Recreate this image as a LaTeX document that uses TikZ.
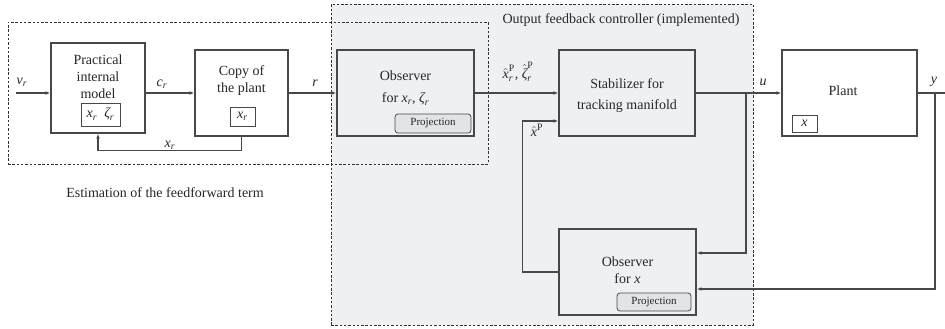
\documentclass[tikz,border=0pt]{standalone}
\usepackage{amsmath}
\usepackage{fontspec}
\setmainfont{Liberation Serif}
\usetikzlibrary{arrows.meta}
\definecolor{lc}{HTML}{484848}
\definecolor{regfill}{HTML}{EEF1F3}
\definecolor{projfill}{HTML}{E2E4E6}
\newcommand{\iv}[1]{\text{\itshape #1}}
\newcommand{\xr}{$\iv{x}_{\iv{r}}$}
\newcommand{\zr}{$\iv{ζ}_{\iv{r}}$}
\begin{document}
\begin{tikzpicture}[x=1pt,y=-1pt,
  every node/.style={font=\fontsize{14}{17}\selectfont, text=black!85},
  blk/.style={draw=lc, line width=1.1pt, inner sep=0pt},
  inbox/.style={draw=lc, line width=0.9pt, inner sep=0pt, fill=white},
  proj/.style={draw=lc, line width=0.8pt, rounded corners=3pt, fill=projfill, inner sep=0pt,
     font=\fontsize{11}{13}\selectfont},
  conn/.style={draw=lc, line width=1.1pt},
  arr/.style={conn, -{Latex[length=5pt,width=3.6pt]}},
  dsh/.style={draw=black!80, line width=0.8pt, dash pattern=on 2.5pt off 1.8pt},
  lbl/.style={inner sep=0pt}
]
\useasboundingbox (0,0) rectangle (945,329);
% regions
\node[dsh, fill=regfill, minimum width=422pt, minimum height=321pt, inner sep=0pt] (ofc) at (542,164.5) {};
\node[dsh, minimum width=480pt, minimum height=142pt, inner sep=0pt] (ffb) at (248,93) {};
\node[lbl] (ofclbl) at (621,20) {Output feedback controller (implemented)};
\node[lbl] (ffblbl) at (165,193) {Estimation of the feedforward term};

% blocks
\node[blk, fill=white, minimum width=94pt, minimum height=90pt] (pim) at (98,88) {};
\node[lbl, align=center] (pimtxt) at (98,77) {Practical\\internal\\model};
\node[inbox, minimum width=39pt, minimum height=23pt] (pimst) at (100.5,114.5) {\xr\ \ \zr};

\node[blk, fill=white, minimum width=93pt, minimum height=86pt] (copy) at (241.5,93) {};
\node[lbl, align=center] (copytxt) at (241.5,80.5) {Copy of\\the plant};
\node[inbox, minimum width=25pt, minimum height=19pt] (copyst) at (242.5,116.5) {\xr};

\node[blk, minimum width=137pt, minimum height=86pt] (obs) at (405.5,93) {};
\node[lbl, align=center] (obstxt) at (405.5,88) {Observer\\[5pt]for \xr, \zr};
\node[proj, minimum width=76pt, minimum height=19pt] (obsproj) at (433,123.5) {Projection};

\node[blk, minimum width=136pt, minimum height=86pt] (stab) at (627,93) {};
\node[lbl, align=center] (stabtxt) at (627,95.5) {Stabilizer for\\[4pt]tracking manifold};

\node[blk, minimum width=137pt, minimum height=86pt] (obsx) at (627.5,272) {};
\node[lbl, align=center] (obsxtxt) at (627.5,270.5) {Observer\\for \iv{x}};
\node[proj, minimum width=74pt, minimum height=18pt] (obsxproj) at (654,302) {Projection};

\node[blk, fill=white, minimum width=135pt, minimum height=86pt] (plant) at (849.5,93) {};
\node[lbl] (planttxt) at (843,91) {Plant};
\node[inbox, minimum width=25pt, minimum height=17pt] (plantst) at (804.5,123.5) {\iv{x}};

% connectors
\coordinate (vin) at (16,93);
\coordinate (yout) at (945,93);
\coordinate (ub) at (746,93);
\coordinate (yb) at (935,93);
\draw[arr] (vin) -- (vin -| pim.west);
\draw[arr] (pim.east |- copy.west) -- (copy.west);
\draw[arr] (copy.east) -- (obs.west);
\draw[arr] (obs.east) -- (stab.west);
\draw[arr] (stab.east) -- (plant.west);
\draw[conn] (plant.east) -- (yout);
\draw[arr] (copy.south) -- ++(0,14) -| (pim.south);
\draw[arr] (ub) |- ([yshift=19pt]obsx.east);
\draw[arr] (yb) |- ([yshift=-17pt]obsx.east);
\draw[arr] (obsx.west) -- ++(-36,0) |- ([yshift=-28pt]stab.west);

% labels
\node[lbl] (lvr) at (22,82) {$\iv{v}_{\iv{r}}$};
\node[lbl] (lcr) at (162,84) {$\iv{c}_{\iv{r}}$};
\node[lbl] (lr) at (315,83) {\iv{r}};
\node[lbl] (lxr) at (170,145) {\xr};
\node[lbl] (lhat) at (518,72) {$\hat{\iv{x}}^{\text{P}}_{\iv{r}}$, $\hat{\iv{ζ}}^{\text{P}}_{\iv{r}}$};
\node[lbl] (lhx) at (537,130) {$\hat{\iv{x}}^{\text{P}}$};
\node[lbl] (lu) at (763,82) {\iv{u}};
\node[lbl] (ly) at (934,82) {\iv{y}};
\end{tikzpicture}
\end{document}
